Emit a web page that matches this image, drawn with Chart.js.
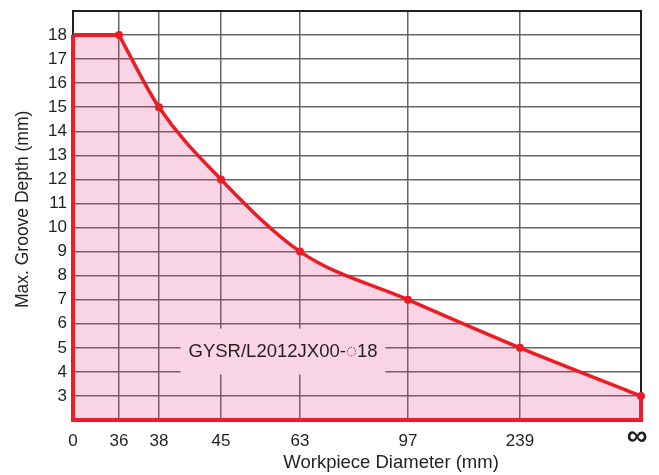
<!DOCTYPE html>
<html>
<head>
<meta charset="utf-8">
<script src="https://cdn.jsdelivr.net/npm/chart.js@4"></script>
<style>
  html, body { margin: 0; padding: 0; background: #fff; }
  #wrap { width: 659px; height: 475px; }
</style>
</head>
<body>
<div id="wrap"><canvas id="grooveChart"></canvas></div>
<script>
// Workpiece diameter ticks (the axis is not linear in mm, so each tick has its own axis position)
const diameterLabels = ['0', '36', '38', '45', '63', '97', '239', '∞'];
const diameterAxisPos = [0, 46, 86, 148, 227, 335, 447, 568];
// Max. groove depth (mm) at each diameter
const maxDepth = [18, 18, 15, 12, 9, 7, 5, 3];
const depthMin = 2;
const depthMax = 19;
const modelLabel = 'GYSR/L2012JX00-◌18';
const xTitle = 'Workpiece Diameter (mm)';
const yTitle = 'Max. Groove Depth (mm)';

const RED = '#ed1c24';
const TEXT = '#231f20';
const PINK_SOLID = '#f9d4e4';
const FONT = '"Liberation Sans", Arial, sans-serif';

const pt = i => ({ x: diameterAxisPos[i], y: maxDepth[i] });
const last = diameterAxisPos.length - 1;

// black frame on top / right side of the plot
const framePlugin = {
  id: 'frame',
  beforeDatasetsDraw(chart) {
    const { ctx, chartArea: a } = chart;
    ctx.save();
    ctx.strokeStyle = TEXT;
    ctx.lineWidth = 2;
    ctx.beginPath();
    ctx.moveTo(a.left, a.top);
    ctx.lineTo(a.right, a.top);
    ctx.lineTo(a.right, a.bottom);
    ctx.stroke();
    ctx.restore();
  }
};

// axis titles + the big bold infinity tick; the x title sits right of centre in the original
const axisTitlesPlugin = {
  id: 'axisTitles',
  afterDraw(chart) {
    const { ctx, chartArea: a, scales } = chart;
    ctx.save();
    ctx.fillStyle = TEXT;
    ctx.textAlign = 'center';
    ctx.textBaseline = 'middle';
    ctx.font = 'bold 29px ' + FONT;
    ctx.fillText(diameterLabels[last], scales.x.getPixelForValue(diameterAxisPos[last]) - 4, a.bottom + 17);
    ctx.font = '18.5px ' + FONT;
    ctx.fillText(xTitle, a.left + (a.right - a.left) * 0.56, chart.height - 12);
    ctx.font = '17.5px ' + FONT;
    ctx.translate(23, a.top + (a.bottom - a.top) * 0.485);
    ctx.rotate(-Math.PI / 2);
    ctx.fillText(yTitle, 0, 0);
    ctx.restore();
  }
};

// model name printed in the shaded area, on a patch that hides the grid
const modelLabelPlugin = {
  id: 'modelLabel',
  afterDatasetsDraw(chart, args, opts) {
    const { ctx, scales } = chart;
    const cx = scales.x.getPixelForValue(opts.x);
    const cy = scales.y.getPixelForValue(opts.y);
    ctx.save();
    ctx.font = '18.5px ' + FONT;
    const w = ctx.measureText(opts.text).width;
    ctx.fillStyle = PINK_SOLID;
    ctx.fillRect(cx - w / 2 - 8, cy - 23, w + 16, 46);
    ctx.fillStyle = TEXT;
    ctx.textAlign = 'center';
    ctx.textBaseline = 'middle';
    ctx.fillText(opts.text, cx, cy);
    ctx.restore();
  }
};

new Chart(document.getElementById('grooveChart').getContext('2d'), {
  type: 'line',
  data: {
    datasets: [
      {
        label: 'Max. groove depth',
        data: maxDepth.slice(1).map((v, i) => pt(i + 1)),
        borderColor: RED,
        borderWidth: 3.5,
        backgroundColor: 'rgba(225, 40, 120, 0.2)',
        fill: 'start',
        cubicInterpolationMode: 'monotone',
        pointRadius: 4,
        pointBackgroundColor: RED,
        pointBorderWidth: 0,
        clip: 8
      },
      {
        label: 'flat',
        data: [pt(0), { x: diameterAxisPos[1], y: maxDepth[0] }],
        borderColor: RED,
        borderWidth: 4,
        backgroundColor: 'rgba(225, 40, 120, 0.2)',
        fill: 'start',
        tension: 0,
        pointRadius: 0
      },
      {
        label: 'outline',
        data: [
          pt(0),
          { x: diameterAxisPos[0], y: depthMin },
          { x: diameterAxisPos[last], y: depthMin },
          pt(last)
        ],
        borderColor: RED,
        borderWidth: 4,
        fill: false,
        tension: 0,
        pointRadius: 0,
        clip: 8
      }
    ]
  },
  options: {
    responsive: true,
    maintainAspectRatio: false,
    animation: false,
    layout: { padding: { top: 11, right: 18, bottom: 0, left: 0 } },
    plugins: {
      legend: { display: false },
      tooltip: { enabled: false },
      modelLabel: { text: modelLabel, x: 210, y: 4.85 }
    },
    scales: {
      x: {
        type: 'linear',
        min: diameterAxisPos[0],
        max: diameterAxisPos[last],
        afterBuildTicks: scale => {
          scale.ticks = diameterAxisPos.map(v => ({ value: v }));
        },
        afterFit: scale => {
          scale.height = 55;
          scale.paddingLeft = 0;
          scale.paddingRight = 0;
        },
        grid: { color: '#666', lineWidth: 1.5, drawTicks: false },
        border: { display: false },
        ticks: {
          autoSkip: false,
          maxRotation: 0,
          padding: 11,
          color: TEXT,
          font: { family: FONT, size: 17 },
          // the infinity tick is drawn larger by the axisTitles plugin
          callback: (v, i) => i === last ? '' : diameterLabels[i]
        }
      },
      y: {
        min: depthMin,
        max: depthMax,
        afterFit: scale => {
          scale.width = 73;
          scale.paddingTop = 0;
          scale.paddingBottom = 0;
        },
        grid: { color: '#666', lineWidth: 1.5, drawTicks: false },
        border: { color: TEXT, width: 2 },
        ticks: {
          stepSize: 1,
          padding: 6,
          color: TEXT,
          font: { family: FONT, size: 17 },
          callback: v => (v === depthMin || v === depthMax) ? '' : v
        }
      }
    }
  },
  plugins: [framePlugin, axisTitlesPlugin, modelLabelPlugin]
});
</script>
</body>
</html>
